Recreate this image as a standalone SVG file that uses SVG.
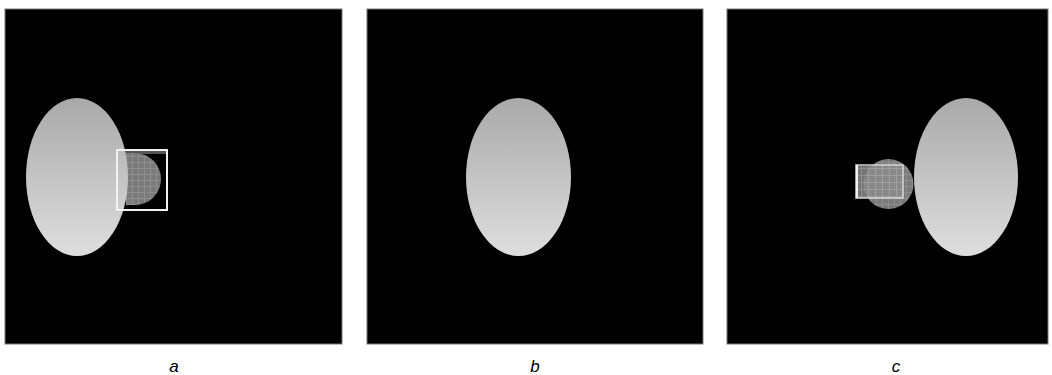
<svg xmlns="http://www.w3.org/2000/svg" width="1052" height="375" viewBox="0 0 1052 375">
<defs>
<linearGradient id="eg" x1="0" y1="0" x2="0" y2="1">
<stop offset="0" stop-color="#a9a9a9"/>
<stop offset="1" stop-color="#dedede"/>
</linearGradient>
<pattern id="grid" width="6" height="6" patternUnits="userSpaceOnUse">
<rect width="6" height="6" fill="#7a7a7a"/>
<path d="M0 0.5H6M0.5 0V6" stroke="#8e8e8e" stroke-width="1"/>
</pattern>
<pattern id="grid2" width="7" height="7" patternUnits="userSpaceOnUse">
<rect width="7" height="7" fill="#8a8a8a"/>
<path d="M0 0.5H7M0.5 0V7" stroke="#a6a6a6" stroke-width="1"/>
</pattern>
</defs>
<style>
.panel{fill:#000;stroke:#777;stroke-width:1}
.ell{fill:url(#eg)}
.box{fill:none;stroke:#f2f2f2;stroke-width:2}
.lbl{font-family:"Liberation Sans",Arial,sans-serif;font-style:italic;font-size:17px;fill:#000;text-anchor:middle}
</style>
<rect width="1052" height="375" fill="#fff"/>
<g id="panel-a">
<rect class="panel" x="5" y="9" width="337" height="335"/>
<rect x="117" y="150" width="50" height="4" fill="#555"/>
<path d="M135 153 A26 26 0 0 1 135 205 Z" fill="url(#grid)"/>
<rect x="126" y="153" width="10" height="52" fill="url(#grid)"/>
<ellipse class="ell" cx="77" cy="177" rx="51" ry="79"/>
<rect class="box" x="117" y="150" width="50" height="60"/>
</g>
<g id="panel-b">
<rect class="panel" x="367" y="9" width="336" height="335"/>
<ellipse class="ell" cx="518.5" cy="177" rx="52.5" ry="79"/>
</g>
<g id="panel-c">
<rect class="panel" x="727" y="9" width="321" height="335"/>
<ellipse class="ell" cx="966" cy="177" rx="52" ry="79"/>
<circle cx="888.5" cy="184" r="25" fill="url(#grid)"/>
<rect x="857" y="166" width="46" height="32" fill="url(#grid2)" opacity="0.85"/>
<rect x="856" y="165" width="47" height="33" fill="none" stroke="#d8d8d8" stroke-width="1.5"/>
<line x1="857" y1="165" x2="857" y2="198" stroke="#f2f2f2" stroke-width="2"/>
</g>
<g id="labels">
<text class="lbl" x="174" y="372">a</text>
<text class="lbl" x="535" y="372">b</text>
<text class="lbl" x="896" y="372">c</text>
</g>
</svg>
